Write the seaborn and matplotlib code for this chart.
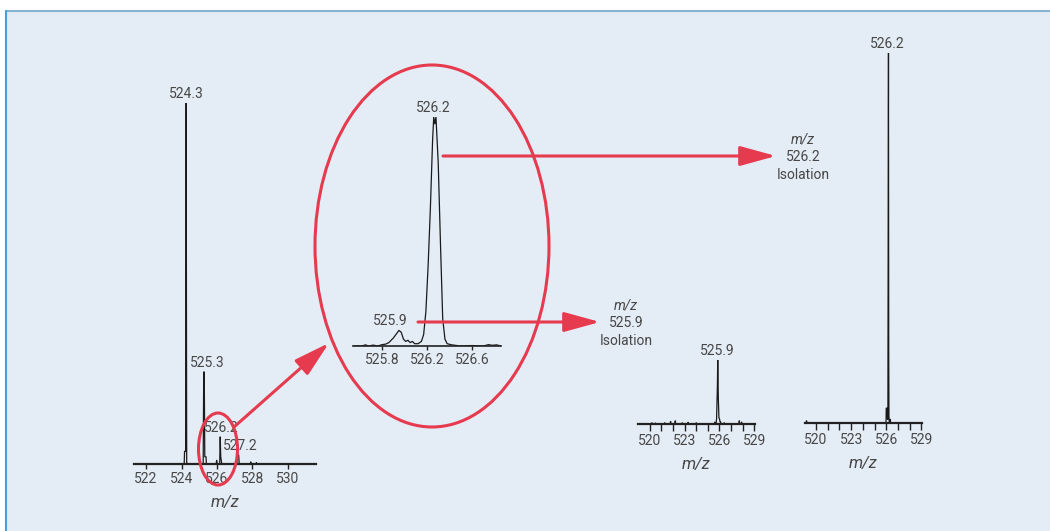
import matplotlib
matplotlib.use("Agg")
import matplotlib.pyplot as plt
import seaborn as sns
import pandas as pd
from matplotlib.patches import Ellipse, Rectangle, FancyArrowPatch
from matplotlib import font_manager

# Full MS scan (intensity in % of base peak)
LEFT_MZ = [521.3, 524.15, 524.17, 524.23, 524.26, 524.29, 524.33, 525.22, 525.25, 525.28,
           525.31, 525.38, 525.40, 525.95, 525.98, 526.01, 526.15, 526.18, 526.21, 526.24,
           526.27, 527.12, 527.15, 527.22, 527.25, 527.88, 527.90, 527.93, 528.20, 528.22,
           528.25, 531.6]
LEFT_INT = [0, 0, 3.5, 3.5, 100, 0.5, 0, 0, 25.5, 25.5,
            2, 2, 0, 0, 1, 0, 0, 7.5, 2, 1,
            0, 0, 2.5, 2.5, 0, 0, 0.6, 0, 0, 0.4,
            0, 0]
LEFT_PEAKS = [(524.26, 100, "524.3"), (525.27, 25.5, "525.3"),
              (526.18, 7.5, "526.2"), (527.18, 2.5, "527.2")]

# Zoom scan around m/z 526
ZOOM_MZ = [525.55, 525.62, 525.65, 525.68, 525.72, 525.76, 525.80, 525.83, 525.86, 525.88,
           525.90, 525.93, 525.95, 525.97, 525.99, 526.01, 526.03, 526.05, 526.07, 526.09,
           526.12, 526.15, 526.17, 526.19, 526.21, 526.23, 526.25, 526.26, 526.27, 526.28,
           526.30, 526.32, 526.34, 526.36, 526.38, 526.42, 526.50, 526.60, 526.70, 526.75,
           526.78, 526.82, 526.86]
ZOOM_INT = [0, 0, 0.5, 0, 0.4, 0, 0.6, 0.8, 1.5, 2.5,
            3.5, 5.5, 6.8, 6, 3, 2, 2.5, 1.5, 2, 1,
            1, 2, 5, 15, 35, 60, 90, 100, 97, 100,
            80, 45, 12, 3, 1, 0.5, 0, 0.2, 0, 0.6,
            0.3, 0.5, 0]
ZOOM_PEAKS = [(526.27, 100, "526.2"), (525.95, 6.8, "525.9")]

# Isolation of m/z 525.9
ISO1_MZ = [519.0, 520.15, 520.2, 520.25, 520.45, 520.5, 520.55, 521.25, 521.3, 521.35,
           521.75, 521.8, 521.85, 522.15, 522.2, 522.25, 522.75, 522.8, 522.85, 523.25,
           523.3, 523.35, 523.95, 524.0, 524.05, 525.55, 525.6, 525.7, 525.75, 525.82,
           525.85, 525.9, 525.95, 526.0, 526.05, 526.1, 526.15, 526.35, 526.4, 526.45,
           527.65, 527.7, 527.75, 527.85, 527.9, 527.95, 529.0]
ISO1_INT = [0, 0, 2, 0, 0, 1.5, 0, 0, 2, 0,
            0, 4, 0, 0, 5, 0, 0, 2, 0, 0,
            2.5, 0, 0, 2, 0, 0, 3, 0, 8, 60,
            100, 40, 10, 8, 3, 3, 0, 0, 2, 0,
            0, 5, 0, 0, 3, 0, 0]
ISO1_PEAKS = [(525.85, 100, "525.9")]

# Isolation of m/z 526.2
ISO2_MZ = [519.0, 519.15, 519.2, 519.25, 525.98, 526.0, 526.08, 526.1, 526.14, 526.17,
           526.19, 526.21, 526.23, 526.26, 526.33, 526.35, 526.37, 529.0]
ISO2_INT = [0, 0, 0.6, 0, 0, 4, 4, 1, 1, 60,
            100, 20, 2, 0, 0, 1, 0, 0]
ISO2_PEAKS = [(526.19, 100, "526.2")]

ISO_TICKS = list(range(520, 530))
ISO_LABELS = ["520", "", "", "523", "", "", "526", "", "", "529"]

W, H = 1050, 531
TEXT_COLOR = "#474747"
RED = "#e63a4e"

sns.set_theme(style="ticks")
available = {f.name for f in font_manager.fontManager.ttflist}
base_font = "Liberation Sans Narrow" if "Liberation Sans Narrow" in available else "Roboto"
plt.rcParams['font.family'] = [base_font, 'DejaVu Sans']
plt.rcParams['font.size'] = 10


def px_axes(fig, x0, x1, y_base, y_top):
    """Create an axes from pixel coordinates (baseline y and 100% y)."""
    ax = fig.add_axes([x0 / W, 1 - y_base / H, (x1 - x0) / W, (y_base - y_top) / H], zorder=1)
    ax.patch.set_alpha(0)
    return ax


def draw_spectrum(ax, mz, inten, xlim, ticks, labels, peaks, tick_len, spine_w, xlabel=True):
    df = pd.DataFrame({"mz": mz, "intensity": inten})
    sns.lineplot(data=df, x="mz", y="intensity", ax=ax, color="#1a1a1a",
                 linewidth=0.9, estimator=None, sort=False)
    ax.set_xlim(*xlim)
    ax.set_ylim(0, 100)
    sns.despine(ax=ax, left=True)
    ax.spines["bottom"].set_linewidth(spine_w)
    ax.spines["bottom"].set_color("#222222")
    ax.set_yticks([])
    ax.set_ylabel("")
    ax.set_xticks(ticks)
    ax.set_xticklabels(labels)
    ax.tick_params(axis="x", length=tick_len, width=1, color="#222222",
                   labelcolor=TEXT_COLOR, labelsize=10, pad=2)
    if xlabel:
        ax.set_xlabel("m/z", fontstyle="italic", color=TEXT_COLOR, labelpad=7)
    else:
        ax.set_xlabel("")
    for x, y, s, dx in peaks:
        ax.annotate(s, (x, y), xytext=(dx, 1.5), textcoords="offset points",
                    ha="center", va="bottom", color=TEXT_COLOR, fontsize=10)


fig = plt.figure(figsize=(W / 100, H / 100), dpi=100)
fig.patch.set_facecolor("white")

# background panel
bg = fig.add_axes([0, 0, 1, 1], zorder=0)
bg.set_xlim(0, W)
bg.set_ylim(H, 0)
bg.axis("off")
bg.add_patch(Rectangle((6, 11), W, H, facecolor="#e4ecf5", edgecolor="none"))
bg.plot([6, W], [11, 11], color="#86b4d2", lw=1.5)
bg.plot([6, 6], [11, H], color="#4a9fd8", lw=1.5)

ax_left = px_axes(fig, 134, 316, 464, 103)
draw_spectrum(ax_left, LEFT_MZ, LEFT_INT, (521.32, 531.58), [522, 524, 526, 528, 530],
              ["522", "524", "526", "528", "530"],
              [(p[0], p[1], p[2], d) for p, d in zip(LEFT_PEAKS, [0, 2, 1, 2])], 3.5, 1.6)

ax_zoom = px_axes(fig, 353, 501, 346, 117)
draw_spectrum(ax_zoom, ZOOM_MZ, ZOOM_INT, (525.54, 526.86), [525.8, 526.2, 526.6],
              ["525.8", "526.2", "526.6"],
              [(ZOOM_PEAKS[0][0], ZOOM_PEAKS[0][1], ZOOM_PEAKS[0][2], -1),
               (ZOOM_PEAKS[1][0], ZOOM_PEAKS[1][1], ZOOM_PEAKS[1][2], -6)], 3, 1.2, xlabel=False)

ax_iso1 = px_axes(fig, 638, 755, 424, 360)
draw_spectrum(ax_iso1, ISO1_MZ, ISO1_INT, (519.0, 529.05), ISO_TICKS, ISO_LABELS,
              [(p[0], p[1], p[2], 0) for p in ISO1_PEAKS], 5, 1.6)

ax_iso2 = px_axes(fig, 805, 922, 423, 53)
draw_spectrum(ax_iso2, ISO2_MZ, ISO2_INT, (519.07, 529.05), ISO_TICKS, ISO_LABELS,
              [(p[0], p[1], p[2], -1) for p in ISO2_PEAKS], 5, 1.6)

# red annotations on top
ov = fig.add_axes([0, 0, 1, 1], zorder=2)
ov.set_xlim(0, W)
ov.set_ylim(H, 0)
ov.axis("off")
ov.patch.set_alpha(0)
ov.add_patch(Ellipse((218, 449), 39, 72, facecolor="none", edgecolor=RED, lw=2.2))
ov.add_patch(Ellipse((432, 246), 234, 362, facecolor="none", edgecolor=RED, lw=2.2))
arrow_style = "-|>,head_length=2.0,head_width=0.55"
for (x0, y0), (x1, y1) in [((234, 427), (329, 343)), ((443, 156), (776, 156)),
                           ((418, 322), (600, 322))]:
    ov.add_patch(FancyArrowPatch((x0, y0), (x1, y1), arrowstyle=arrow_style,
                                 mutation_scale=11, color=RED, lw=2.2,
                                 shrinkA=0, shrinkB=0))

for cx, cy, val in [(803, 157, "526.2"), (626, 323, "525.9")]:
    ov.text(cx, cy - 18, "m/z", ha="center", va="center", fontstyle="italic", color=TEXT_COLOR)
    ov.text(cx, cy, val, ha="center", va="center", color=TEXT_COLOR)
    ov.text(cx, cy + 18, "Isolation", ha="center", va="center", color=TEXT_COLOR)

fig.savefig("out.png", dpi=100)
